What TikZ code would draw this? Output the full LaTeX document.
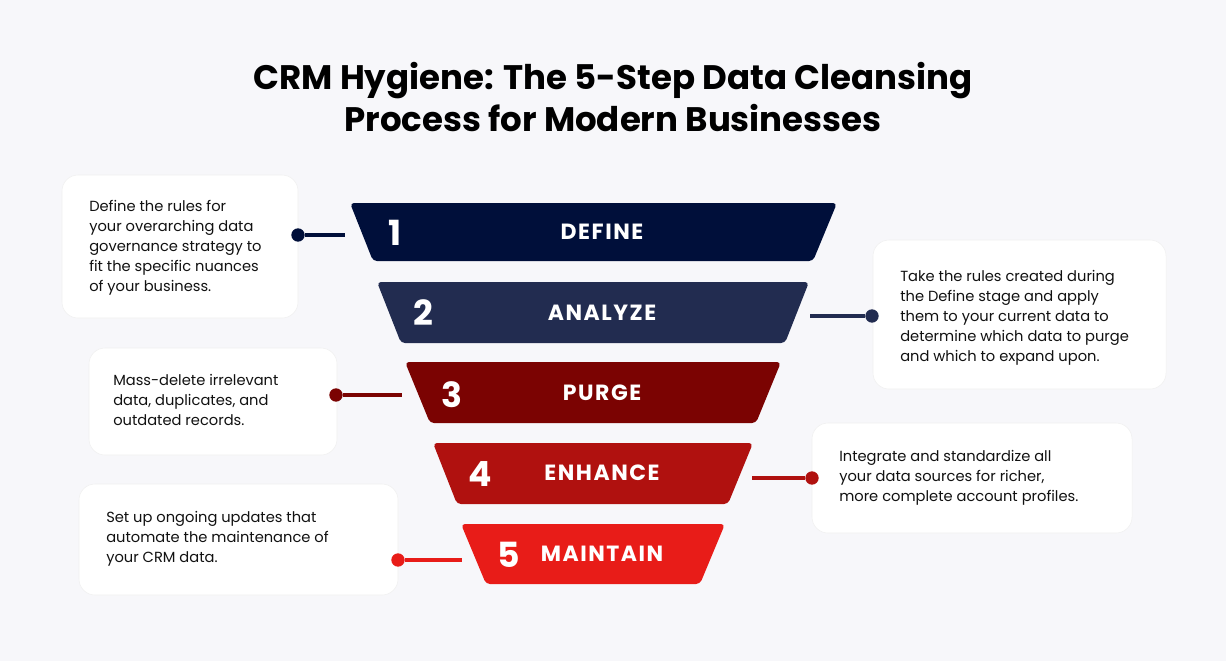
\documentclass[tikz,border=0pt]{standalone}
\usepackage{fontspec}
\setmainfont{Poppins}
\usetikzlibrary{positioning}
\definecolor{bgc}{HTML}{F7F7FA}
\definecolor{cone}{HTML}{000F3A}
\definecolor{ctwo}{HTML}{222C50}
\definecolor{cthree}{HTML}{7B0302}
\definecolor{cfour}{HTML}{B0110F}
\definecolor{cfive}{HTML}{E81C18}
\definecolor{ink}{HTML}{111111}
\tikzset{
  infobox/.style={fill=white, rounded corners=12pt},
  infotext/.style={anchor=north west, align=left, font=\fontsize{11}{15}\selectfont, text=ink, inner sep=0pt},
  stepnum/.style={text=white, font=\fontsize{26}{26}\selectfont\bfseries},
  steplabel/.style={text=white, font=\fontsize{16.5}{16}\selectfont\bfseries\addfontfeatures{LetterSpace=7}},
  link/.style={line width=2.6pt},
  dot/.style={circle, inner sep=0pt, minimum size=10pt}
}
\begin{document}
\begin{tikzpicture}[x=0.75pt,y=-0.75pt]

  % background
  \fill[bgc] (0,0) rectangle (1226,661);
  \useasboundingbox (0,0) rectangle (1226,661);

  % title
  \node [align=center, font=\fontsize{25.5}{32}\selectfont\bfseries] (title) at (613,97)
    {CRM Hygiene: The 5-Step Data Cleansing\\Process for Modern Businesses};

  % funnel steps
  \fill[cone,   rounded corners=3pt] (350,203) -- (837,203) -- (813,261) -- (373,261) -- cycle;
  \fill[ctwo,   rounded corners=3pt] (377,282) -- (809,282) -- (785,343) -- (401,343) -- cycle;
  \fill[cthree, rounded corners=3pt] (405,362) -- (781,362) -- (756,423) -- (430,423) -- cycle;
  \fill[cfour,  rounded corners=3pt] (433,443) -- (753,443) -- (728,504) -- (457,504) -- cycle;
  \fill[cfive,  rounded corners=3pt] (461,524) -- (725,524) -- (700,584) -- (486,584) -- cycle;

  \node [stepnum]   (n1) at (395,233) {1};
  \node [steplabel] (s1) at (602,232) {DEFINE};
  \node [stepnum]   (n2) at (423,313) {2};
  \node [steplabel] (s2) at (602,313) {ANALYZE};
  \node [stepnum]   (n3) at (452,395) {3};
  \node [steplabel] (s3) at (602,393) {PURGE};
  \node [stepnum]   (n4) at (480,474) {4};
  \node [steplabel] (s4) at (602,473) {ENHANCE};
  \node [stepnum]   (n5) at (509,555) {5};
  \node [steplabel] (s5) at (602,554) {MAINTAIN};

  % description boxes
  \fill[infobox] (62,175)  rectangle (298,318);
  \fill[infobox] (873,240) rectangle (1166,389);
  \fill[infobox] (89,348)  rectangle (337,455);
  \fill[infobox] (812,423) rectangle (1132,533);
  \fill[infobox] (79,484)  rectangle (398,595);
  \draw[black!6] (62,175)  [rounded corners=12pt] rectangle (298,318);
  \draw[black!6] (873,240) [rounded corners=12pt] rectangle (1166,389);
  \draw[black!6] (89,348)  [rounded corners=12pt] rectangle (337,455);
  \draw[black!6] (812,423) [rounded corners=12pt] rectangle (1132,533);
  \draw[black!6] (79,484)  [rounded corners=12pt] rectangle (398,595);

  \node [infotext] (t1) at (89,200)  {Define the rules for\\your overarching data\\governance strategy to\\fit the specific nuances\\of your business.};
  \node [infotext] (t2) at (900,270) {Take the rules created during\\the Define stage and apply\\them to your current data to\\determine which data to purge\\and which to expand upon.};
  \node [infotext] (t3) at (113,374) {Mass-delete irrelevant\\data, duplicates, and\\outdated records.};
  \node [infotext] (t4) at (839,450) {Integrate and standardize all\\your data sources for richer,\\more complete account profiles.};
  \node [infotext] (t5) at (106,511) {Set up ongoing updates that\\automate the maintenance of\\your CRM data.};

  % connectors
  \node [dot, fill=cone]   (d1) at (298,235) {};
  \node [dot, fill=ctwo]   (d2) at (872,316) {};
  \node [dot, fill=cthree] (d3) at (336,395) {};
  \node [dot, fill=cfour]  (d4) at (812,478) {};
  \node [dot, fill=cfive]  (d5) at (398,560) {};
  \coordinate (e1) at (345,235);
  \coordinate (e2) at (810,316);
  \coordinate (e3) at (402,395);
  \coordinate (e4) at (752,478);
  \coordinate (e5) at (462,560);
  \draw [link, cone]   (d1) -- (e1);
  \draw [link, ctwo]   (d2) -- (e2);
  \draw [link, cthree] (d3) -- (e3);
  \draw [link, cfour]  (d4) -- (e4);
  \draw [link, cfive]  (d5) -- (e5);

\end{tikzpicture}
\end{document}
